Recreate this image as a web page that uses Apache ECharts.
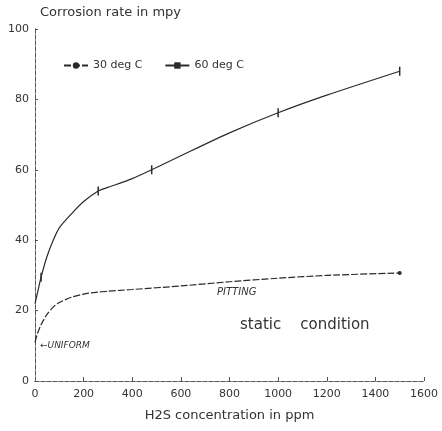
<!DOCTYPE html>
<html><head><meta charset="utf-8">
<script src="https://cdn.jsdelivr.net/npm/echarts@6/dist/echarts.min.js"></script>
<style>html,body{margin:0;padding:0;background:#fff}#c{width:442px;height:431px}</style>
</head><body><div id="c"></div>
<script>
var xTicks = [0, 200, 400, 600, 800, 1000, 1200, 1400, 1600];
var yTicks = [0, 20, 40, 60, 80, 100];
var ppm60 = [0, 10, 25, 50, 75, 100, 150, 200, 260, 300, 400, 480, 600, 800, 1000, 1200, 1500];
var rate60 = [22, 25, 29.5, 35.5, 40, 43.5, 47.5, 51, 54, 55, 57.5, 60, 64, 70.5, 76.2, 81.2, 88];
var marked60 = [25, 260, 480, 1000, 1500];
var ppm30 = [0, 10, 25, 50, 75, 100, 150, 200, 250, 300, 400, 600, 800, 1000, 1200, 1500];
var rate30 = [11, 13.5, 16, 19, 21, 22.3, 23.8, 24.7, 25.2, 25.5, 26, 27, 28.2, 29.2, 30, 30.7];
var marked30 = [1500];

function build(xs, ys, marks){
  return xs.map(function(x,i){
    var d = {value:[x, ys[i]]};
    if (marks.indexOf(x) < 0) d.symbol = 'none';
    return d;
  });
}
var ink = '#2a2a2a';
var axisCommon = {
  min: 0, axisLine:{show:true, lineStyle:{color:'#555', type:[4,2], width:1}},
  splitLine:{show:false}
};
var chart = echarts.init(document.getElementById('c'));
chart.setOption({
  animation:false,
  backgroundColor:'#fff',
  textStyle:{fontFamily:'DejaVu Sans'},
  title:{text:'Corrosion rate in mpy', left:35, top:1,
    textStyle:{fontSize:13, fontWeight:'normal', color:'#333', fontFamily:'DejaVu Sans'}},
  legend:{left:58, top:55, itemGap:22, itemWidth:24, itemHeight:8,
    textStyle:{fontSize:11, color:'#333'},
    data:['30 deg C','60 deg C']},
  grid:{left:35, right:18, top:29, bottom:50},
  xAxis:[
    Object.assign({type:'value', max:1600, interval:200,
      axisTick:{show:true, inside:true, length:4, lineStyle:{color:'#555'}},
      axisLabel:{fontSize:11, color:'#333', margin:8, formatter:function(v){return String(v);}},
      name:'H2S concentration in ppm', nameLocation:'middle', nameGap:28,
      nameTextStyle:{fontSize:13, color:'#333'}}, axisCommon),
    Object.assign({type:'value', max:1600, interval:200, position:'top',
      axisTick:{show:false}, axisLabel:{show:false}}, axisCommon)
  ],
  yAxis:[
    Object.assign({type:'value', max:100, interval:20,
      axisTick:{show:true, inside:true, length:3, lineStyle:{color:'#555'}},
      axisLabel:{fontSize:11, color:'#333', margin:6}}, axisCommon),
    Object.assign({type:'value', max:100, interval:20, position:'right',
      axisTick:{show:false}, axisLabel:{show:false}}, axisCommon)
  ],
  series:[
    {name:'30 deg C', type:'line', smooth:0.25,
      symbol:'circle', symbolSize:4, showSymbol:true,
      itemStyle:{color:ink}, lineStyle:{color:ink, width:1.2, type:[7,2]},
      data: build(ppm30, rate30, marked30)},
    {name:'60 deg C', type:'line', smooth:0.25,
      symbol:'rect', symbolSize:[1.5,9], showSymbol:true,
      itemStyle:{color:ink}, lineStyle:{color:ink, width:1.2},
      data: build(ppm60, rate60, marked60)}
  ],
  graphic:[
    {type:'text', left:217, top:287, style:{text:'PITTING', fontSize:10, fontStyle:'italic', fill:'#333', fontFamily:'DejaVu Sans'}},
    {type:'text', left:240, top:318, style:{text:'static    condition', fontSize:15, fill:'#333', fontFamily:'DejaVu Sans'}},
    {type:'text', left:40, top:341, style:{text:'\u2190UNIFORM', fontSize:9, fontStyle:'italic', fill:'#333', fontFamily:'DejaVu Sans'}}
  ]
});
</script></body></html>
